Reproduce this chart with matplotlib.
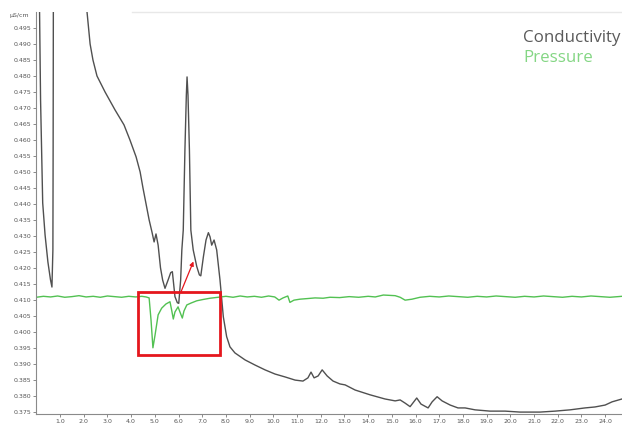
import matplotlib.pyplot as plt
from matplotlib.patches import Rectangle

# conductivity trace (uS/cm)
cond_time = [0.13, 0.18, 0.27, 0.37, 0.49, 0.60, 0.66, 0.70, 0.71, 0.72, 0.75, 2.05,
             2.14, 2.27, 2.39, 2.56, 2.90, 3.32, 3.70, 3.95, 4.21, 4.38, 4.50, 4.63,
             4.76, 4.88, 4.97, 5.05, 5.14, 5.24, 5.33, 5.43, 5.56, 5.67, 5.74, 5.85,
             5.95, 6.01, 6.09, 6.14, 6.20, 6.27, 6.33, 6.36, 6.40, 6.46, 6.52, 6.62,
             6.77, 6.88, 6.94, 7.05, 7.16, 7.26, 7.33, 7.40, 7.50, 7.61, 7.75, 7.89,
             8.03, 8.17, 8.38, 8.81, 9.23, 9.65, 10.07, 10.49, 10.92, 11.25, 11.46,
             11.59, 11.72, 11.89, 12.06, 12.27, 12.52, 12.81, 13.03, 13.45, 14.08,
             14.71, 15.14, 15.35, 15.56, 15.77, 16.05, 16.23, 16.53, 16.70, 16.91,
             17.12, 17.46, 17.79, 18.09, 18.51, 19.14, 19.78, 20.41, 21.25, 21.89,
             22.52, 23.15, 23.57, 24.00, 24.29, 24.71]
cond_value = [0.505, 0.4725, 0.4403, 0.4303, 0.4218, 0.4162, 0.4140, 0.4256, 0.4568, 0.505, 0.56, 0.56,
              0.5000, 0.4900, 0.4850, 0.4800, 0.4750, 0.4694, 0.4647, 0.4600, 0.4547, 0.4500, 0.4450, 0.4400,
              0.4350, 0.4312, 0.4281, 0.4306, 0.4271, 0.4200, 0.4162, 0.4136, 0.4162, 0.4185, 0.4188, 0.4110,
              0.4091, 0.4089, 0.4162, 0.4256, 0.4318, 0.4568, 0.4740, 0.4797, 0.4740, 0.4568, 0.4318, 0.4256,
              0.4204, 0.4178, 0.4175, 0.4235, 0.4287, 0.4310, 0.4297, 0.4271, 0.4287, 0.4256, 0.4162, 0.4047,
              0.3985, 0.3953, 0.3934, 0.3912, 0.3896, 0.3881, 0.3868, 0.3859, 0.3849, 0.3846, 0.3856,
              0.3874, 0.3856, 0.3862, 0.3881, 0.3862, 0.3846, 0.3837, 0.3834, 0.3818, 0.3803,
              0.3790, 0.3784, 0.3787, 0.3777, 0.3766, 0.3793, 0.3774, 0.3762, 0.3781, 0.3797,
              0.3784, 0.3771, 0.3762, 0.3762, 0.3756, 0.3752, 0.3752, 0.3749, 0.3749, 0.3752,
              0.3756, 0.3762, 0.3765, 0.3771, 0.3781, 0.3790]

# pressure trace (plotted on the same scale)
pres_time = [0.0, 0.3, 0.6, 0.9, 1.2, 1.5, 1.8, 2.1, 2.4, 2.7, 3.0, 3.3, 3.6, 3.9, 4.2, 4.45,
             4.63, 4.76, 4.84, 4.92, 5.01, 5.14, 5.29, 5.47, 5.64, 5.71, 5.78, 5.85, 5.98,
             6.06, 6.16, 6.23, 6.35, 6.53, 6.77, 7.03, 7.33, 7.67, 8.0, 8.3, 8.6, 8.9,
             9.2, 9.5, 9.8, 10.06, 10.24, 10.41, 10.61, 10.70, 10.87, 11.12, 11.45, 11.76,
             12.1, 12.39, 12.8, 13.2, 13.6, 14.0, 14.3, 14.64, 15.14, 15.35, 15.56, 15.85,
             16.19, 16.6, 17.0, 17.4, 17.8, 18.2, 18.6, 19.0, 19.4, 19.8, 20.2, 20.6, 21.0,
             21.4, 21.8, 22.2, 22.6, 23.0, 23.4, 23.8, 24.2, 24.71]
pres_value = [0.4108, 0.4111, 0.4109, 0.4112, 0.4108, 0.4110, 0.4113, 0.4109, 0.4111, 0.4108, 0.4112, 0.4110, 0.4108, 0.4111, 0.4109, 0.4111,
              0.4109, 0.4106, 0.4037, 0.3950, 0.3990, 0.4053, 0.4074, 0.4087, 0.4094, 0.4068, 0.4040, 0.4062, 0.4078,
              0.4062, 0.4043, 0.4065, 0.4084, 0.4090, 0.4097, 0.4101, 0.4105, 0.4108, 0.4111, 0.4108, 0.4112, 0.4109,
              0.4111, 0.4108, 0.4112, 0.4109, 0.4099, 0.4106, 0.4112, 0.4092, 0.4099, 0.4102, 0.4104, 0.4106,
              0.4105, 0.4108, 0.4107, 0.4110, 0.4108, 0.4111, 0.4109, 0.4115, 0.4113, 0.4108, 0.4099, 0.4102,
              0.4108, 0.4111, 0.4109, 0.4112, 0.4110, 0.4108, 0.4111, 0.4109, 0.4112, 0.4110, 0.4108, 0.4111, 0.4109,
              0.4112, 0.4110, 0.4108, 0.4111, 0.4109, 0.4112, 0.4110, 0.4108, 0.4111]

x_ticks = list(range(1, 25))
x_labels = [f"{t}.0" for t in x_ticks]
y_ticks = [0.375 + 0.005 * i for i in range(25)]
y_labels = [f"{v:.3f}" for v in y_ticks]

# highlighted zone and arrow (data units)
box_x, box_y, box_w, box_h = 4.27, 0.3926, 3.48, 0.0200
arrow_from, arrow_to = (6.11, 0.4126), (6.63, 0.4220)

fig = plt.figure(figsize=(6.22, 4.25), dpi=100)
ax = fig.add_axes([36.3 / 622, 11 / 425, 1 - 36.3 / 622, 1 - 23 / 425])

ax.plot(cond_time, cond_value, color='#505050', lw=1.0)
ax.plot(pres_time, pres_value, color='#52c152', lw=1.0)

ax.add_patch(Rectangle((box_x, box_y), box_w, box_h, fill=False,
                       edgecolor='#e5161d', lw=2.0, zorder=5))
ax.annotate('', xy=arrow_to, xytext=arrow_from,
            arrowprops=dict(arrowstyle='-|>', color='#e5161d', lw=0.9,
                            mutation_scale=6, shrinkA=0, shrinkB=0))

ax.set_xlim(0, 24.71)
ax.set_ylim(0.3743, 0.5)
ax.set_xticks(x_ticks)
ax.set_xticklabels(x_labels)
ax.set_yticks(y_ticks)
ax.set_yticklabels(y_labels)
ax.tick_params(labelsize=4.5, length=2.5, width=0.6, pad=1.2,
               colors='#777777', labelcolor='#555555')

for side in ['top', 'right']:
    ax.spines[side].set_visible(False)
for side in ['left', 'bottom']:
    ax.spines[side].set_color('#8a8a8a')
    ax.spines[side].set_linewidth(0.8)

# faint line along the top
ax.axhline(0.5, xmin=0.163, xmax=1.0, color='#e8e8e8', lw=1.0, clip_on=False)

fig.text(19 / 622, 1 - 15.5 / 425, 'µS/cm', fontsize=4.5, color='#555555',
         ha='center', va='center')

fig.text(523 / 622, 1 - 42.3 / 425, 'Conductivity', fontsize=12.2,
         family='Open Sans', color='#5a5a5a', va='baseline')
fig.text(523 / 622, 1 - 62 / 425, 'Pressure', fontsize=12.2,
         family='Open Sans', color='#84d684', va='baseline')

fig.savefig('out.png', dpi=100)
